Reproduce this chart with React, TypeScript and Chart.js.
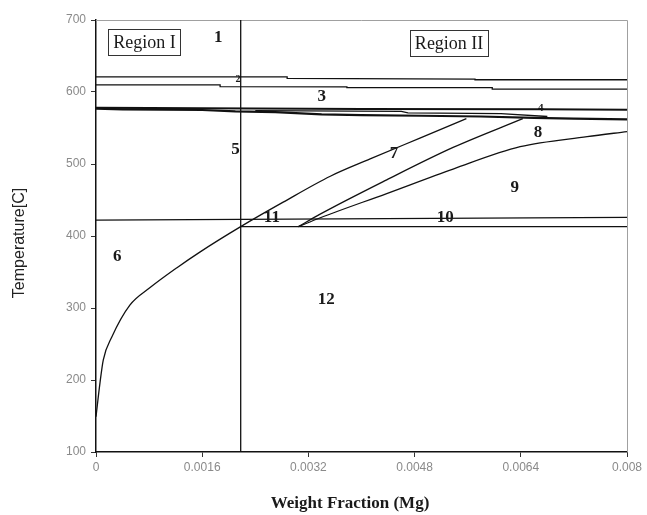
import React, { useEffect, useRef } from "react";
import { Chart, registerables } from "chart.js";
Chart.register(...registerables);

// Axis ticks
const xTickValues = [0, 0.0016, 0.0032, 0.0048, 0.0064, 0.008];
const xTickLabels = ["0", "0.0016", "0.0032", "0.0048", "0.0064", "0.008"];
const yTickValues = [100, 200, 300, 400, 500, 600, 700];
const yTickLabels = ["100", "200", "300", "400", "500", "600", "700"];

// Phase boundary lines [weight fraction, temperature]
const solvusCurve: [number, number][] = [
  [0, 149], [0.00006, 196], [0.00011, 228], [0.00024, 260], [0.00051, 304],
  [0.00081, 328], [0.00122, 356], [0.00157, 378], [0.00218, 413], [0.00282, 447],
  [0.00353, 483], [0.00413, 507], [0.00488, 536], [0.00558, 563],
];
const curveUpper: [number, number][] = [
  [0.00305, 413], [0.00337, 430], [0.00438, 478], [0.00538, 523], [0.00643, 563],
];
const curveLower: [number, number][] = [
  [0.00305, 413], [0.00337, 425], [0.00438, 459], [0.00538, 493], [0.00639, 524],
  [0.0074, 538], [0.008, 545],
];
const lineTop: [number, number][] = [
  [0, 621], [0.00288, 621], [0.00288, 619], [0.00571, 618], [0.00571, 617], [0.008, 617],
];
const lineSecond: [number, number][] = [
  [0, 610], [0.00187, 610], [0.00187, 607.5], [0.00378, 607], [0.00378, 606],
  [0.00597, 606], [0.00597, 604], [0.008, 604],
];
const lineEutecticUpper: [number, number][] = [
  [0, 578], [0.004, 576.5], [0.0067, 576], [0.008, 575.5],
];
const lineEutecticMid: [number, number][] = [
  [0.0024, 574], [0.0046, 573], [0.0047, 571], [0.0061, 570], [0.0068, 566],
];
const lineEutecticLower: [number, number][] = [
  [0, 577], [0.0004, 576], [0.0016, 575], [0.0021, 573], [0.0027, 572],
  [0.0034, 569], [0.004, 568], [0.0049, 567], [0.0058, 566], [0.0066, 564],
  [0.0072, 563], [0.008, 562],
];
const lineLowUpper: [number, number][] = [[0, 422], [0.008, 426]];
const lineLowLower: [number, number][] = [[0.00218, 413], [0.008, 413]];
const lineVertical: [number, number][] = [[0.00218, 100], [0.00218, 700]];

// Region numbers [x, temperature, text, size]
const regionNumbers: [number, number, string, number][] = [
  [0.00184, 675, "1", 17],
  [0.00214, 617, "2", 10],
  [0.0034, 593, "3", 17],
  [0.0067, 578, "4", 11],
  [0.00210, 520, "5", 17],
  [0.00032, 372, "6", 17],
  [0.00449, 515, "7", 17],
  [0.00666, 543, "8", 17],
  [0.00631, 467, "9", 17],
  [0.00526, 425, "10", 17],
  [0.00265, 425, "11", 17],
  [0.00347, 311, "12", 17],
];
const regionBoxes: [number, number, string][] = [
  [0.000731, 669, "Region I"],
  [0.00532, 668, "Region II"],
];

const xTitle = "Weight Fraction (Mg)";
const yTitle = "Temperature[C]";

const seriesList: { data: [number, number][]; width: number; smooth: boolean }[] = [
  { data: solvusCurve, width: 1.3, smooth: true },
  { data: curveUpper, width: 1.3, smooth: true },
  { data: curveLower, width: 1.3, smooth: true },
  { data: lineTop, width: 1.3, smooth: false },
  { data: lineSecond, width: 1.3, smooth: false },
  { data: lineEutecticUpper, width: 2, smooth: false },
  { data: lineEutecticMid, width: 1.3, smooth: false },
  { data: lineEutecticLower, width: 2.2, smooth: false },
  { data: lineLowUpper, width: 1.3, smooth: false },
  { data: lineLowLower, width: 1.3, smooth: false },
  { data: lineVertical, width: 1.3, smooth: false },
];

const annotationPlugin = {
  id: "annotations",
  beforeDatasetsDraw(chart: any) {
    const { ctx, chartArea } = chart;
    ctx.save();
    ctx.strokeStyle = "#a0a0a0";
    ctx.lineWidth = 1;
    ctx.beginPath();
    ctx.moveTo(chartArea.left, chartArea.top + 0.5);
    ctx.lineTo(chartArea.right + 0.5, chartArea.top + 0.5);
    ctx.lineTo(chartArea.right + 0.5, chartArea.bottom);
    ctx.stroke();
    ctx.restore();
  },
  afterDatasetsDraw(chart: any) {
    const { ctx, scales } = chart;
    const xs = scales.x;
    const ys = scales.y;
    ctx.save();
    ctx.fillStyle = "#1a1a1a";
    ctx.textAlign = "center";
    ctx.textBaseline = "middle";
    for (const [x, t, txt, size] of regionNumbers) {
      ctx.font = `bold ${size}px "Liberation Serif"`;
      ctx.fillText(txt, xs.getPixelForValue(x), ys.getPixelForValue(t));
    }
    for (const [x, t, txt] of regionBoxes) {
      ctx.font = `18px "Liberation Serif"`;
      const px = xs.getPixelForValue(x);
      const py = ys.getPixelForValue(t);
      const w = ctx.measureText(txt).width + 10;
      const h = 26;
      ctx.fillStyle = "#fff";
      ctx.fillRect(px - w / 2, py - h / 2, w, h);
      ctx.strokeStyle = "#333";
      ctx.lineWidth = 1;
      ctx.strokeRect(Math.round(px - w / 2) + 0.5, Math.round(py - h / 2) + 0.5, Math.round(w), h);
      ctx.fillStyle = "#1a1a1a";
      ctx.fillText(txt, px, py + 1);
    }
    // axis titles
    ctx.font = `bold 17px "Liberation Serif"`;
    ctx.fillText(xTitle, 350, 504);
    ctx.save();
    ctx.translate(20, 243);
    ctx.rotate(-Math.PI / 2);
    ctx.font = `16px "Liberation Sans"`;
    ctx.fillStyle = "#222";
    ctx.fillText(yTitle, 0, 0);
    ctx.restore();
    ctx.restore();
  },
};

export default function App() {
  const ref = useRef<HTMLCanvasElement | null>(null);
  useEffect(() => {
    document.body.style.margin = "0";
    if (!ref.current) return;
    const chart = new Chart(ref.current, {
      type: "scatter",
      data: {
        datasets: seriesList.map((s) => ({
          data: s.data.map(([x, y]) => ({ x, y })),
          showLine: true,
          borderColor: "#111",
          borderWidth: s.width,
          pointRadius: 0,
          tension: s.smooth ? 0.4 : 0,
          cubicInterpolationMode: s.smooth ? "monotone" : "default",
          fill: false,
        })),
      },
      options: {
        responsive: false,
        animation: false,
        events: [],
        layout: { padding: { top: 20, right: 20, left: 0, bottom: 0 } },
        plugins: { legend: { display: false }, tooltip: { enabled: false } },
        scales: {
          x: {
            type: "linear",
            min: 0,
            max: 0.008,
            afterBuildTicks: (scale: any) => {
              scale.ticks = xTickValues.map((v) => ({ value: v }));
            },
            afterFit: (scale: any) => {
              scale.height = 63;
            },
            ticks: {
              callback: (_v: any, i: number) => xTickLabels[i],
              color: "#8a8a8a",
              font: { family: "Liberation Sans", size: 12 },
              maxRotation: 0,
              autoSkip: false,
              padding: 3,
            },
            grid: { drawOnChartArea: false, drawTicks: true, tickLength: 5, color: "#333" },
            border: { color: "#111", width: 1.5 },
          },
          y: {
            type: "linear",
            min: 100,
            max: 700,
            afterBuildTicks: (scale: any) => {
              scale.ticks = yTickValues.map((v) => ({ value: v }));
            },
            afterFit: (scale: any) => {
              scale.width = 96;
            },
            ticks: {
              callback: (_v: any, i: number) => yTickLabels[i],
              color: "#8a8a8a",
              font: { family: "Liberation Sans", size: 12 },
              padding: 5,
            },
            grid: { drawOnChartArea: false, drawTicks: true, tickLength: 5, color: "#333" },
            border: { color: "#111", width: 1.5 },
          },
        },
      },
      plugins: [annotationPlugin],
    });
    return () => chart.destroy();
  }, []);
  return (
    <div style={{ width: 647, height: 515, background: "#fff" }}>
      <canvas ref={ref} width={647} height={515} style={{ display: "block" }} />
    </div>
  );
}
